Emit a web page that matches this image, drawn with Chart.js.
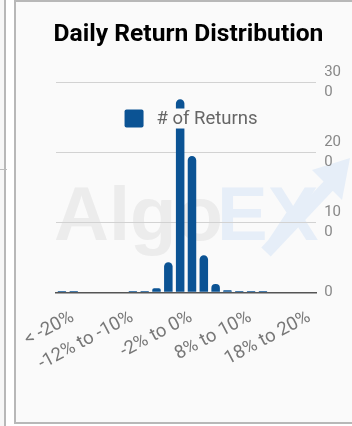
<!DOCTYPE html>
<html>
<head>
<meta charset="utf-8">
<script src="https://cdn.jsdelivr.net/npm/chart.js@4.4.0/dist/chart.umd.min.js"></script>
<style>
  html, body { margin: 0; padding: 0; width: 352px; height: 426px; overflow: hidden; background: #fff; }
  .side { position: absolute; left: -21px; top: -2px; width: 23px; height: 428px; border: 2px solid #b8b8b8; background: #f7f7f7; }
  .tick { position: absolute; left: 0; top: 169px; width: 7px; height: 1px; background: #bdbdbd; }
  .card { position: absolute; left: 14px; top: 0; width: 360px; height: 420px; border: 2px solid #b8b8b8; background: #fafafa; }
  .wrap { position: absolute; left: 0; top: 0; width: 345px; height: 420px; }
</style>
</head>
<body>
<div class="side"></div>
<div class="tick"></div>
<div class="card">
  <div class="wrap"><canvas id="returns-chart"></canvas></div>
</div>
<script>
// Return buckets and counts
const buckets = [
  "< -20%", "-20% to -18%", "-18% to -16%", "-16% to -14%", "-14% to -12%",
  "-12% to -10%", "-10% to -8%", "-8% to -6%", "-6% to -4%", "-4% to -2%",
  "-2% to 0%", "0% to 2%", "2% to 4%", "4% to 6%", "6% to 8%",
  "8% to 10%", "10% to 12%", "12% to 14%", "14% to 16%", "16% to 18%",
  "18% to 20%", "> 20%"
];
const returnCounts = [2, 2, 0, 0, 0, 0, 2, 2, 6, 43, 276, 195, 53, 12, 3, 2, 2, 2, 0, 0, 0, 0];
const yTicks = [0, 100, 200, 300];
const seriesLabel = "# of Returns";

const BG = "#fafafa";
const BAR_COLOR = "#0b5394";

// Faint "AlgoEX" logo behind the grid
const watermark = {
  id: "watermark",
  beforeDraw(chart) {
    const ctx = chart.ctx;
    ctx.save();
    ctx.font = "bold 76px 'Liberation Sans', Arial, sans-serif";
    ctx.textBaseline = "alphabetic";
    ctx.fillStyle = "#ececec";
    ctx.fillText("Algo", 38, 238);
    ctx.fillStyle = "#e6eef8";
    ctx.fillText("EX", 201, 238);
    // arrow
    ctx.strokeStyle = "#e6eef8";
    ctx.lineWidth = 13;
    ctx.beginPath();
    ctx.moveTo(250, 250);
    ctx.lineTo(318, 178);
    ctx.stroke();
    ctx.beginPath();
    ctx.moveTo(334, 156);
    ctx.lineTo(296, 168);
    ctx.lineTo(326, 198);
    ctx.closePath();
    ctx.fillStyle = "#e6eef8";
    ctx.fill();
    ctx.restore();
  }
};

// Legend drawn inside the plot, over the bars, on a background patch
const innerLegend = {
  id: "innerLegend",
  afterDatasetsDraw(chart) {
    const { ctx, chartArea } = chart;
    const box = 19, gap = 13;
    ctx.save();
    ctx.font = "18.5px Roboto";
    const textW = ctx.measureText(seriesLabel).width;
    const total = box + gap + textW;
    const x0 = (chartArea.left + chartArea.right) / 2 + 5 - total / 2;
    const yMid = chartArea.top + 36;
    ctx.fillStyle = BG;
    ctx.fillRect(x0 + box + gap - 4, yMid - 10, textW + 8, 20);
    ctx.fillStyle = BAR_COLOR;
    ctx.beginPath();
    ctx.roundRect(x0, yMid - 9, box, 18, 2);
    ctx.fill();
    ctx.fillStyle = "#666";
    ctx.textBaseline = "middle";
    ctx.fillText(seriesLabel, x0 + box + gap, yMid + 1);
    ctx.restore();
  }
};

function createChart() {
  const ctx = document.getElementById("returns-chart").getContext("2d");
  return new Chart(ctx, {
    type: "bar",
    data: {
      labels: buckets,
      datasets: [{
        label: seriesLabel,
        data: returnCounts,
        backgroundColor: BAR_COLOR,
        borderRadius: 5
      }]
    },
    options: {
      responsive: true,
      maintainAspectRatio: false,
      animation: false,
      layout: { padding: { left: 4, right: 4, top: 0, bottom: 41 } },
      plugins: {
        title: {
          display: true,
          text: "Daily Return Distribution",
          color: "#000",
          font: { family: "Roboto", size: 24.6, weight: "bold" },
          padding: { top: 18, bottom: 33 }
        },
        legend: { display: false },
        tooltip: { enabled: false }
      },
      scales: {
        x: {
          grid: { display: false },
          border: { display: true, color: "#555", width: 1.5 },
          afterFit: axis => { axis.paddingLeft = 40; },
          ticks: {
            autoSkip: false,
            minRotation: 28,
            maxRotation: 28,
            padding: 6,
            labelOffset: 11,
            color: "#777",
            font: { family: "Roboto", size: 18.5 },
            callback: function (value, index) {
              return index % 5 === 0 ? buckets[index] : "";
            }
          }
        },
        y: {
          position: "right",
          min: 0,
          max: 300,
          afterBuildTicks: axis => { axis.ticks = yTicks.map(v => ({ value: v })); },
          afterFit: axis => { axis.width += 8; },
          grid: { color: "#d2d2d2", drawTicks: false },
          border: { display: false },
          ticks: {
            padding: 8,
            color: "#888",
            font: { family: "Roboto", size: 15, lineHeight: 1.35 },
            callback: function (value) {
              const s = String(value);
              return s.length > 1 ? [s.slice(0, -1), s.slice(-1)] : s;
            }
          }
        }
      }
    },
    plugins: [watermark, innerLegend]
  });
}

createChart();
</script>
</body>
</html>
